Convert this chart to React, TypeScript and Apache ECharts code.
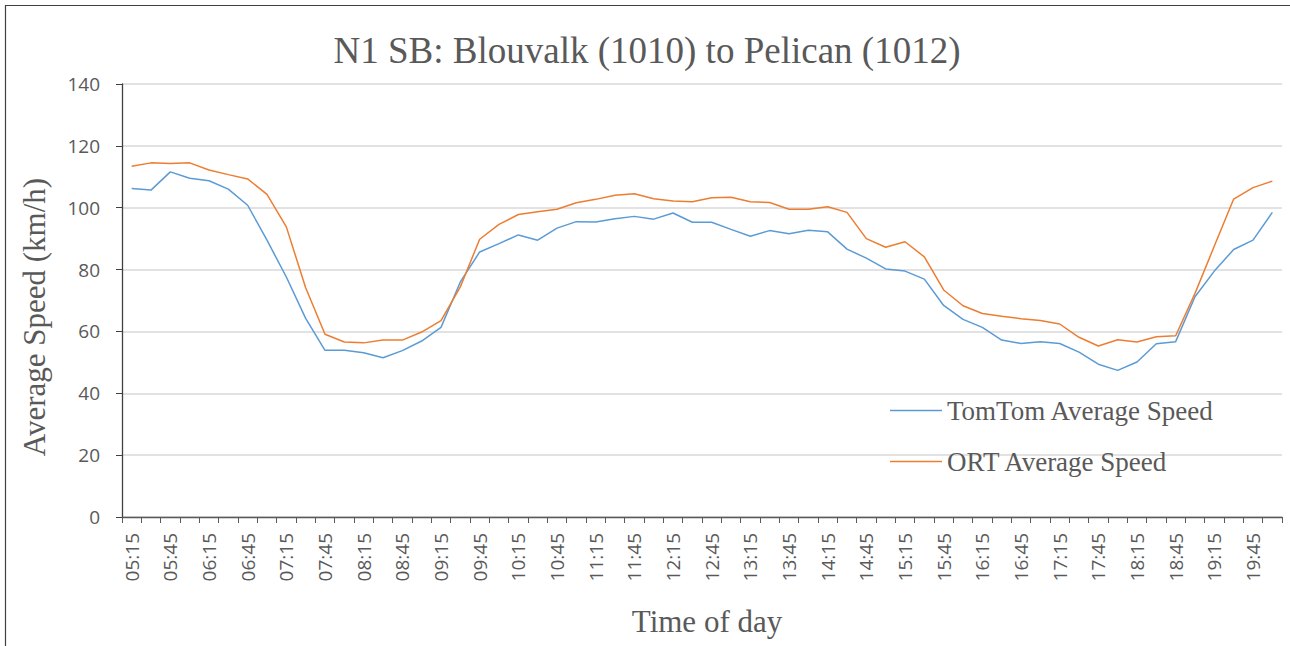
import React, { useEffect, useRef } from "react";
import * as echarts from "echarts";

const titleText = "N1 SB: Blouvalk (1010) to Pelican (1012)";
const xAxisTitle = "Time of day";
const yAxisTitle = "Average Speed (km/h)";

const categories = [
  "05:15", "05:30", "05:45", "06:00", "06:15", "06:30", "06:45", "07:00", "07:15", "07:30",
  "07:45", "08:00", "08:15", "08:30", "08:45", "09:00", "09:15", "09:30", "09:45", "10:00",
  "10:15", "10:30", "10:45", "11:00", "11:15", "11:30", "11:45", "12:00", "12:15", "12:30",
  "12:45", "13:00", "13:15", "13:30", "13:45", "14:00", "14:15", "14:30", "14:45", "15:00",
  "15:15", "15:30", "15:45", "16:00", "16:15", "16:30", "16:45", "17:00", "17:15", "17:30",
  "17:45", "18:00", "18:15", "18:30", "18:45", "19:00", "19:15", "19:30", "19:45", "20:00",
];

const tomtomName = "TomTom Average Speed";
const tomtomValues = [
  106.2, 105.7, 111.6, 109.5, 108.7, 106.0, 100.8, 89.5, 77.6, 64.2,
  53.9, 53.9, 53.1, 51.5, 53.8, 56.9, 61.3, 76.0, 85.7, 88.4,
  91.2, 89.5, 93.4, 95.5, 95.4, 96.4, 97.2, 96.3, 98.3, 95.3,
  95.3, 93.0, 90.8, 92.6, 91.6, 92.7, 92.2, 86.6, 83.7, 80.2,
  79.5, 76.9, 68.4, 63.9, 61.3, 57.2, 56.1, 56.7, 56.1, 53.3,
  49.4, 47.4, 50.1, 56.0, 56.7, 71.2, 79.5, 86.5, 89.5, 98.5,
];

const ortName = "ORT Average Speed";
const ortValues = [
  113.4, 114.5, 114.3, 114.5, 112.2, 110.7, 109.3, 104.3, 93.8, 74.1,
  59.1, 56.6, 56.3, 57.2, 57.2, 59.8, 63.5, 74.4, 89.8, 94.6,
  97.8, 98.7, 99.5, 101.6, 102.7, 104.0, 104.5, 102.9, 102.2, 101.9,
  103.2, 103.4, 101.9, 101.7, 99.5, 99.5, 100.3, 98.5, 90.0, 87.2,
  89.0, 84.1, 73.4, 68.3, 65.8, 64.9, 64.1, 63.5, 62.4, 58.1,
  55.3, 57.3, 56.6, 58.3, 58.6, 72.3, 87.6, 102.8, 106.5, 108.6,
];

const yMin = 0;
const yMax = 140;
const yStep = 20;

const SERIF = "'Liberation Serif', 'Times New Roman', serif";
const SANS = "'Open Sans', 'Noto Sans', sans-serif";
const TEXT = "#595959";

export default function App() {
  const ref = useRef<HTMLDivElement>(null);

  useEffect(() => {
    if (!ref.current) return;
    const chart = echarts.init(ref.current, undefined, { renderer: "svg" });
    chart.setOption({
      animation: false,
      backgroundColor: "#ffffff",
      grid: { left: 122, right: 8, top: 84, bottom: 129, containLabel: false },
      legend: {
        orient: "vertical",
        left: 890,
        top: 397,
        padding: 0,
        icon: "rect",
        itemWidth: 52,
        itemHeight: 1.5,
        itemGap: 24,
        textStyle: { fontFamily: SERIF, fontSize: 27, color: TEXT, lineHeight: 27 },
        data: [tomtomName, ortName],
      },
      xAxis: {
        type: "category",
        data: categories,
        boundaryGap: true,
        axisLine: { lineStyle: { color: "#595959", width: 1.3 } },
        axisTick: { show: true, interval: 0, length: 6, lineStyle: { color: "#595959" } },
        axisLabel: {
          interval: 1,
          rotate: 90,
          margin: 16,
          fontFamily: SANS,
          fontSize: 19,
          color: TEXT,
        },
        splitLine: { show: false },
      },
      yAxis: {
        type: "value",
        min: yMin,
        max: yMax,
        interval: yStep,
        axisLine: { show: true, lineStyle: { color: "#404040", width: 1.3 } },
        axisTick: { show: true, length: 6, lineStyle: { color: "#404040" } },
        axisLabel: { margin: 22, fontFamily: SANS, fontSize: 19, color: TEXT },
        splitLine: { show: true, lineStyle: { color: "#d9d9d9", width: 1.6 } },
      },
      series: [
        {
          name: tomtomName,
          type: "line",
          data: tomtomValues,
          symbol: "none",
          itemStyle: { color: "#5B9BD5" },
          lineStyle: { color: "#5B9BD5", width: 1.5 },
        },
        {
          name: ortName,
          type: "line",
          data: ortValues,
          symbol: "none",
          itemStyle: { color: "#ED7D31" },
          lineStyle: { color: "#ED7D31", width: 1.5 },
        },
      ],
      graphic: [
        {
          type: "rect",
          silent: true,
          shape: { x: 5.5, y: 5.5, width: 1400, height: 800 },
          style: { fill: "none", stroke: "#404040", lineWidth: 1.2 },
        },
        {
          type: "text",
          x: 647,
          y: 50,
          style: {
            text: titleText,
            fontFamily: SERIF,
            fontSize: 37,
            fill: TEXT,
            align: "center",
            verticalAlign: "middle",
          },
        },
        {
          type: "text",
          x: 707,
          y: 621,
          style: {
            text: xAxisTitle,
            fontFamily: SERIF,
            fontSize: 31,
            fill: TEXT,
            align: "center",
            verticalAlign: "middle",
          },
        },
        {
          type: "text",
          x: 34,
          y: 317,
          rotation: Math.PI / 2,
          style: {
            text: yAxisTitle,
            fontFamily: SERIF,
            fontSize: 31,
            fill: TEXT,
            align: "center",
            verticalAlign: "middle",
          },
        },
      ],
    });
    return () => chart.dispose();
  }, []);

  return (
    <div
      ref={ref}
      style={{ position: "fixed", left: 0, top: 0, width: 1290, height: 646, background: "#fff" }}
    />
  );
}
